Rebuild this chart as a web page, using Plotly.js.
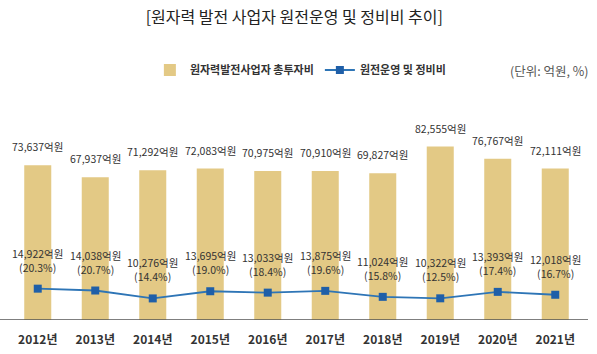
<!DOCTYPE html>
<html>
<head>
<meta charset="utf-8">
<script src="https://cdn.plot.ly/plotly-3.0.1.min.js"></script>
<style>
html,body{margin:0;padding:0;background:#fff;}
#chart{width:597px;height:354px;}
</style>
</head>
<body>
<div id="chart"></div>
<script>
// ---- data ----
const years = ["2012년","2013년","2014년","2015년","2016년","2017년","2018년","2019년","2020년","2021년"];
const totalInvest = [73637, 67937, 71292, 72083, 70975, 70910, 69827, 82555, 76767, 72111];
const opMaint = [14922, 14038, 10276, 13695, 13033, 13875, 11024, 10322, 13393, 12018];
const opShare = [20.3, 20.7, 14.4, 19.0, 18.4, 19.6, 15.8, 12.5, 17.4, 16.7];
const seriesNames = ["원자력발전사업자 총투자비", "원전운영 및 정비비"];
const titleText = "[원자력 발전 사업자 원전운영 및 정비비 추이]";
const unitText = "(단위: 억원, %)";

const FONT = "'Noto Sans CJK KR', 'Noto Sans', sans-serif";
const fmt = v => v.toLocaleString('en-US');

const annotations = [];
years.forEach((y, i) => {
  annotations.push({
    x: y, y: totalInvest[i], xref: 'x', yref: 'y',
    text: fmt(totalInvest[i]) + '억원',
    showarrow: false, yanchor: 'bottom', yshift: 9,
    font: {family: FONT, size: 10.5, color: '#333'}
  });
  annotations.push({
    x: y, y: opMaint[i], xref: 'x', yref: 'y',
    text: fmt(opMaint[i]) + '억원<br>(' + opShare[i].toFixed(1) + '%)',
    showarrow: false, yanchor: 'bottom', yshift: 12,
    font: {family: FONT, size: 10.5, color: '#333'}
  });
});
annotations.push({
  x: 1.012, y: 0.9615, xref: 'paper', yref: 'paper',
  xanchor: 'right', yanchor: 'middle', showarrow: false,
  text: unitText, font: {family: FONT, size: 12.5, color: '#555'}
});

const traces = [
  {
    type: 'bar', name: seriesNames[0], x: years, y: totalInvest,
    marker: {color: '#E3C985'}, hoverinfo: 'skip'
  },
  {
    type: 'scatter', mode: 'lines+markers', name: seriesNames[1], x: years, y: opMaint,
    line: {color: '#2E75B6', width: 1.8},
    marker: {symbol: 'square', size: 8, color: '#1F5FA8'}, hoverinfo: 'skip'
  }
];

const layout = {
  width: 597, height: 354,
  margin: {l: 9, r: 13, t: 60, b: 34},
  paper_bgcolor: '#fff', plot_bgcolor: '#fff',
  font: {family: FONT, color: '#333'},
  title: {
    text: titleText, xref: 'container', yref: 'container',
    x: 0.493, y: 0.952, xanchor: 'center', yanchor: 'middle',
    font: {family: FONT, size: 16, color: '#222'}
  },
  bargap: 0.53,
  showlegend: true,
  legend: {
    orientation: 'h', x: 0.245, y: 0.9615, xanchor: 'left', yanchor: 'middle',
    xref: 'paper', yref: 'paper',
    entrywidth: 125, entrywidthmode: 'pixels',
    font: {family: FONT, size: 11, color: '#333', weight: 'bold'},
    bgcolor: 'rgba(0,0,0,0)'
  },
  xaxis: {
    type: 'category', range: [-0.5, 9.5], showgrid: false, zeroline: false,
    showline: false, ticks: 'outside', ticklen: 9, tickcolor: 'rgba(0,0,0,0)',
    tickfont: {family: FONT, size: 12, color: '#333', weight: 'bold'},
    fixedrange: true
  },
  yaxis: {
    range: [0, 123800], showgrid: false, zeroline: false, showline: false,
    showticklabels: false, ticks: '', fixedrange: true
  },
  shapes: [{
    type: 'line', xref: 'paper', yref: 'y',
    x0: -9/575, x1: 1 + 4/575, y0: 0, y1: 0,
    line: {color: '#555', width: 1.5}
  }],
  annotations: annotations
};

Plotly.newPlot('chart', traces, layout, {displayModeBar: false, staticPlot: true});
</script>
</body>
</html>
